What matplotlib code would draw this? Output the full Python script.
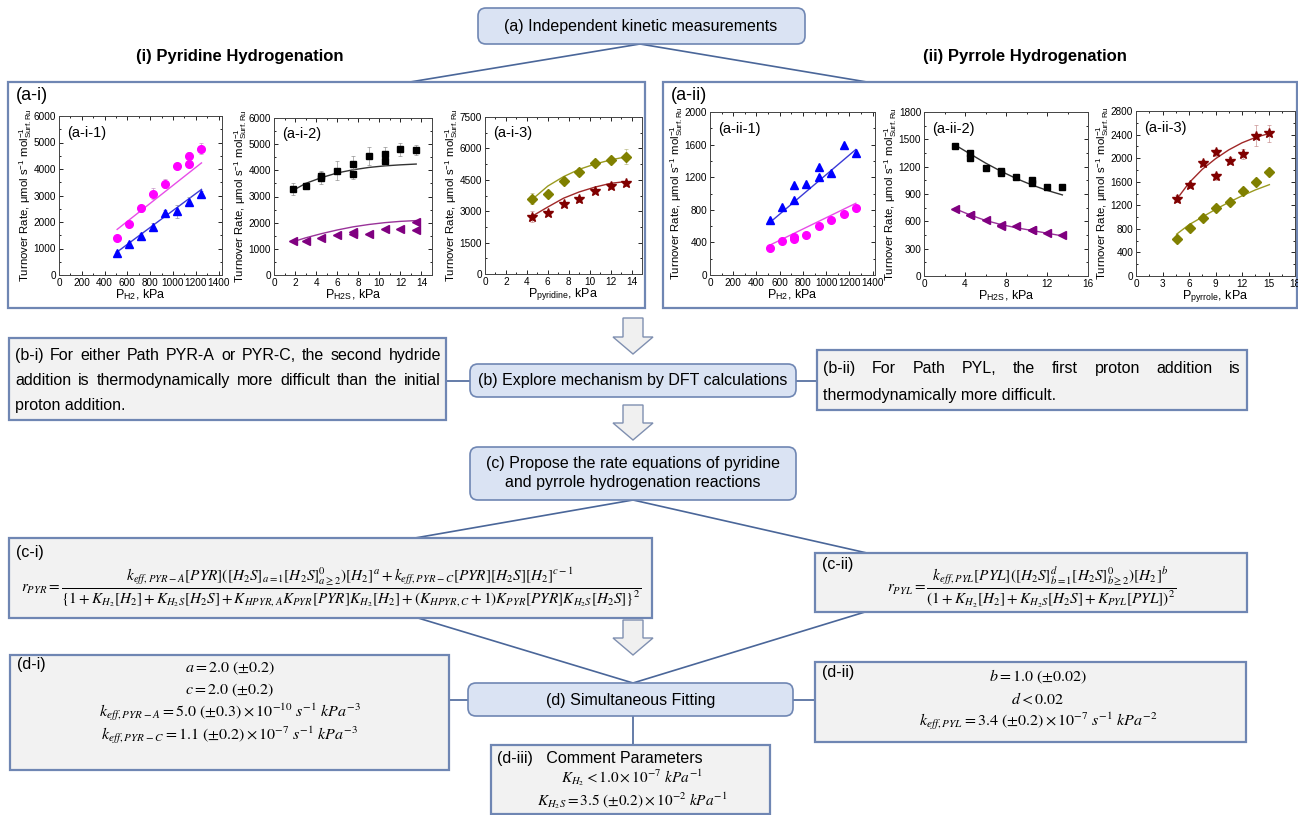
import matplotlib
matplotlib.use('Agg')
import matplotlib.pyplot as plt
from matplotlib.patches import FancyBboxPatch, Rectangle, Polygon
from matplotlib.ticker import MultipleLocator, AutoMinorLocator

plt.rcParams['font.family'] = ['Liberation Sans', 'DejaVu Sans']
plt.rcParams['mathtext.fontset'] = 'stix'

# ---- data ----
# (a-i-1) turnover rate vs P_H2, pyridine
ai1_pink_x = [510, 615, 720, 825, 930, 1035, 1140, 1140, 1250]
ai1_pink_y = [1400, 1930, 2520, 3070, 3450, 4130, 4200, 4490, 4770]
ai1_pink_err = [90, 110, 130, 200, 170, 90, 100, 160, 200]
ai1_pink_fit_x = [510, 1250]
ai1_pink_fit_y = [1720, 4230]
ai1_blue_x = [510, 615, 720, 825, 930, 1035, 1140, 1250]
ai1_blue_y = [820, 1170, 1470, 1800, 2350, 2400, 2770, 3060]
ai1_blue_err = [80, 90, 100, 150, 120, 250, 180, 120]
ai1_blue_fit_x = [510, 1250]
ai1_blue_fit_y = [870, 3230]

# (a-i-2) turnover rate vs P_H2S, pyridine
ai2_sq_x = [1.8, 3, 4.5, 4.5, 6, 7.5, 7.5, 9, 10.5, 10.5, 12, 13.5]
ai2_sq_y = [3280, 3420, 3720, 3800, 3990, 3850, 4260, 4540, 4360, 4630, 4800, 4780]
ai2_sq_err = [220, 100, 250, 150, 350, 200, 300, 350, 150, 250, 250, 200]
ai2_sq_fit_x = [1.8, 3, 4.5, 6, 7.5, 9, 10.5, 12, 13.5]
ai2_sq_fit_y = [3230, 3500, 3720, 3900, 4020, 4110, 4170, 4210, 4240]
ai2_tri_x = [1.8, 3, 4.5, 6, 7.5, 7.5, 9, 10.5, 12, 13.5, 13.5]
ai2_tri_y = [1290, 1290, 1400, 1510, 1560, 1640, 1570, 1750, 1750, 1730, 2040]
ai2_tri_fit_x = [1.8, 3, 4.5, 6, 7.5, 9, 10.5, 12, 13.5]
ai2_tri_fit_y = [1270, 1420, 1580, 1720, 1840, 1930, 2000, 2050, 2080]

# (a-i-3) turnover rate vs P_pyridine
ai3_dia_x = [4.5, 6, 7.5, 9, 10.5, 12, 13.5]
ai3_dia_y = [3600, 3820, 4440, 4860, 5300, 5450, 5600]
ai3_dia_err = [250, 100, 120, 200, 120, 100, 350]
ai3_dia_fit_y = [3560, 4200, 4650, 5000, 5250, 5450, 5600]
ai3_star_y = [2740, 2920, 3350, 3580, 3980, 4180, 4330]
ai3_star_err = [250, 100, 100, 120, 100, 100, 120]
ai3_star_fit_y = [2760, 3200, 3620, 3920, 4150, 4330, 4420]

# (a-ii-1) turnover rate vs P_H2, pyrrole
aii1_blue_x = [520, 620, 725, 725, 830, 935, 935, 1045, 1150, 1255]
aii1_blue_y = [680, 840, 920, 1110, 1120, 1200, 1320, 1250, 1590, 1500]
aii1_blue_fit_x = [520, 1255]
aii1_blue_fit_y = [650, 1540]
aii1_pink_x = [520, 620, 725, 725, 830, 935, 1045, 1150, 1255]
aii1_pink_y = [330, 420, 440, 470, 490, 600, 680, 750, 820]
aii1_pink_fit_x = [520, 1255]
aii1_pink_fit_y = [370, 880]

# (a-ii-2) turnover rate vs P_H2S, pyrrole
aii2_sq_x = [3, 4.5, 4.5, 6, 7.5, 7.5, 9, 10.5, 10.5, 12, 13.5]
aii2_sq_y = [1430, 1350, 1290, 1180, 1130, 1150, 1090, 1020, 1050, 980, 980]
aii2_tri_x = [3, 4.5, 4.5, 6, 7.5, 7.5, 9, 10.5, 10.5, 12, 13.5]
aii2_tri_y = [730, 665, 670, 615, 545, 560, 545, 510, 500, 475, 445]
aii2_fit_x = [3, 4.5, 6, 7.5, 9, 10.5, 12, 13.5]
aii2_sq_fit_y = [1440, 1340, 1240, 1150, 1070, 1000, 940, 890]
aii2_tri_fit_y = [740, 670, 610, 565, 530, 500, 470, 440]

# (a-ii-3) turnover rate vs P_pyrrole
aii3_star_x = [4.6, 6.1, 7.6, 9.1, 9.1, 10.6, 12.1, 13.6, 15.1]
aii3_star_y = [1310, 1540, 1920, 2100, 1690, 1960, 2070, 2380, 2420]
aii3_star_err = [60, 50, 50, 60, 60, 60, 90, 180, 140]
aii3_dia_x = [4.6, 6.1, 7.6, 9.1, 10.6, 12.1, 13.6, 15.1]
aii3_dia_y = [620, 820, 990, 1160, 1260, 1440, 1590, 1760]
aii3_fit_x = [4.6, 6, 7.5, 9, 10.5, 12, 13.5, 15.1]
aii3_star_fit_y = [1300, 1580, 1810, 1990, 2140, 2260, 2350, 2420]
aii3_dia_fit_y = [710, 870, 1000, 1130, 1250, 1360, 1460, 1550]

# ---- canvas in pixel units ----
W, H = 1298, 815
fig = plt.figure(figsize=(W / 100, H / 100), dpi=100)
base = fig.add_axes([0, 0, 1, 1])
base.set_xlim(0, W)
base.set_ylim(H, 0)
base.axis('off')

EDGE = '#6f86b3'
LINE = '#4a6699'
BLUE = '#dae3f3'
GRAY = '#f2f2f2'


def box(x0, y0, x1, y1, fc, rounded=False):
    if rounded:
        p = FancyBboxPatch((x0, y0), x1 - x0, y1 - y0,
                           boxstyle='round,pad=0,rounding_size=8',
                           fc=fc, ec=EDGE, lw=1.2, zorder=2)
    else:
        p = Rectangle((x0, y0), x1 - x0, y1 - y0, fc=fc, ec=EDGE, lw=1.6, zorder=2)
    base.add_patch(p)


def link(x0, y0, x1, y1):
    base.plot([x0, x1], [y0, y1], color=LINE, lw=1.2, zorder=1)


def down_arrow(xc, y0, y1):
    pts = [(xc - 10, y0), (xc + 10, y0), (xc + 10, y1 - 17), (xc + 20, y1 - 17),
           (xc, y1), (xc - 20, y1 - 17), (xc - 10, y1 - 17)]
    base.add_patch(Polygon(pts, closed=True, fc='#f0f0f0', ec='#7f8fb0', lw=1.0, zorder=2))


def justify(lines, x0, x1, ys, size):
    # spread the words of each line (but the last) across the box width
    r = fig.canvas.get_renderer()
    for i, (line, y) in enumerate(zip(lines, ys)):
        yb = y + 4
        if i == len(lines) - 1:
            base.text(x0, yb, line, fontsize=size, va='baseline', zorder=3)
            continue
        words = line.split()
        ts = [base.text(0, yb, w, fontsize=size, va='baseline', zorder=3) for w in words]
        widths = [t.get_window_extent(r).width for t in ts]
        gap = (x1 - x0 - sum(widths)) / (len(words) - 1)
        x = x0
        for t, w in zip(ts, widths):
            t.set_x(x)
            x += w + gap


# ---- top: (a) ----
link(640, 44, 410, 82)
link(640, 44, 867, 82)
box(478, 8, 805, 44, BLUE, rounded=True)
base.text(641, 26, '(a) Independent kinetic measurements', fontsize=11.5,
          ha='center', va='center', zorder=3)
base.text(240, 57, '(i) Pyridine Hydrogenation', fontsize=12, weight='bold',
          ha='center', va='center')
base.text(1025, 57, '(ii) Pyrrole Hydrogenation', fontsize=12, weight='bold',
          ha='center', va='center')
box(8, 82, 645, 308, 'white')
box(663, 82, 1297, 308, 'white')
base.text(16, 95, '(a-i)', fontsize=13, va='center', zorder=3)
base.text(671, 95, '(a-ii)', fontsize=13, va='center', zorder=3)

YLAB = (r'Turnover Rate, $\mathregular{\mu}$mol s$^{\mathregular{-1}}$ '
        r'mol$^{\mathregular{-1}}_{\mathregular{Surf.Ru}}$')


def panel(rect, xlim, xmaj, ylim, ymaj, xlabel, tag):
    x0, y0, x1, y1 = rect
    ax = fig.add_axes([x0 / W, 1 - y1 / H, (x1 - x0) / W, (y1 - y0) / H])
    ax.patch.set_alpha(0)
    ax.set_zorder(5)
    ax.set_xlim(*xlim)
    ax.set_ylim(*ylim)
    ax.xaxis.set_major_locator(MultipleLocator(xmaj))
    ax.yaxis.set_major_locator(MultipleLocator(ymaj))
    ax.xaxis.set_minor_locator(AutoMinorLocator(2))
    ax.yaxis.set_minor_locator(AutoMinorLocator(2))
    ax.tick_params(which='both', direction='in', top=True, right=True, labelsize=7.2,
                   width=0.6, pad=2)
    ax.tick_params(which='major', length=3)
    ax.tick_params(which='minor', length=1.5)
    for s in ax.spines.values():
        s.set_linewidth(0.7)
        s.set_color('#444444')
    ax.set_xlabel(xlabel, fontsize=9, labelpad=0)
    ax.set_ylabel(YLAB, fontsize=8.2, labelpad=0)
    ax.text(0.05, 0.94, tag, transform=ax.transAxes, fontsize=10.5, va='top')
    return ax


def pts(ax, x, y, m, c, ms, err=None, ec=None):
    if err is not None:
        ax.errorbar(x, y, yerr=err, fmt='none', ecolor=ec or c, elinewidth=0.6,
                    capsize=1.5, capthick=0.6, alpha=0.7)
    ax.plot(x, y, m, color=c, ms=ms, ls='none')


ax = panel((59, 116, 222, 275), (0, 1430), 200, (0, 6000), 1000,
           r'P$_{\mathregular{H2}}$, kPa', '(a-i-1)')
ax.plot(ai1_pink_fit_x, ai1_pink_fit_y, color='#e84de8', lw=1)
ax.plot(ai1_blue_fit_x, ai1_blue_fit_y, color='#3a3ad6', lw=1)
pts(ax, ai1_pink_x, ai1_pink_y, 'o', '#ff00ff', 5.5, ai1_pink_err, '#c080c0')
pts(ax, ai1_blue_x, ai1_blue_y, '^', '#0000ff', 6, ai1_blue_err, '#8080a0')

ax = panel((274, 118, 432, 275), (0, 15), 2, (0, 6000), 1000,
           r'P$_{\mathregular{H2S}}$, kPa', '(a-i-2)')
ax.plot(ai2_sq_fit_x, ai2_sq_fit_y, color='#333333', lw=1)
ax.plot(ai2_tri_fit_x, ai2_tri_fit_y, color='#993399', lw=1)
pts(ax, ai2_sq_x, ai2_sq_y, 's', 'black', 5, ai2_sq_err, '#808080')
pts(ax, ai2_tri_x, ai2_tri_y, '<', '#800080', 6)

ax = panel((485, 117, 642, 274), (0, 15), 2, (0, 7500), 1500,
           r'P$_{\mathregular{pyridine}}$, kPa', '(a-i-3)')
ax.plot(ai3_dia_x, ai3_dia_fit_y, color='#9a9a20', lw=1)
ax.plot(ai3_dia_x, ai3_star_fit_y, color='#a02828', lw=1)
pts(ax, ai3_dia_x, ai3_dia_y, 'D', '#808000', 5, ai3_dia_err, '#b0b070')
pts(ax, ai3_dia_x, ai3_star_y, '*', '#800000', 7, ai3_star_err, '#c08080')

ax = panel((710, 112, 875, 275), (0, 1420), 200, (0, 2000), 400,
           r'P$_{\mathregular{H2}}$, kPa', '(a-ii-1)')
ax.plot(aii1_blue_fit_x, aii1_blue_fit_y, color='#3a3ad6', lw=1)
ax.plot(aii1_pink_fit_x, aii1_pink_fit_y, color='#e84de8', lw=1)
pts(ax, aii1_blue_x, aii1_blue_y, '^', '#0000ff', 6)
pts(ax, aii1_pink_x, aii1_pink_y, 'o', '#ff00ff', 5.5)

ax = panel((924, 112, 1088, 276), (0, 16), 4, (0, 1800), 300,
           r'P$_{\mathregular{H2S}}$, kPa', '(a-ii-2)')
ax.plot(aii2_fit_x, aii2_sq_fit_y, color='#333333', lw=1)
ax.plot(aii2_fit_x, aii2_tri_fit_y, color='#993399', lw=1)
pts(ax, aii2_sq_x, aii2_sq_y, 's', 'black', 5)
pts(ax, aii2_tri_x, aii2_tri_y, '<', '#800080', 6)

ax = panel((1136, 111, 1295, 276), (0, 18), 3, (0, 2800), 400,
           r'P$_{\mathregular{pyrrole}}$, kPa', '(a-ii-3)')
ax.plot(aii3_fit_x, aii3_star_fit_y, color='#a02828', lw=1)
ax.plot(aii3_fit_x, aii3_dia_fit_y, color='#9a9a20', lw=1)
pts(ax, aii3_star_x, aii3_star_y, '*', '#800000', 7, aii3_star_err, '#c08080')
pts(ax, aii3_dia_x, aii3_dia_y, 'D', '#808000', 5)

# ---- (b) DFT ----
down_arrow(633, 318, 354)
link(446, 381, 470, 381)
link(796, 381, 817, 381)
box(9, 338, 446, 420, GRAY)
box(470, 364, 796, 397, BLUE, rounded=True)
box(817, 350, 1247, 410, GRAY)
base.text(633, 381, '(b) Explore mechanism by DFT calculations', fontsize=11.5,
          ha='center', va='center', zorder=3)
justify(['(b-i) For either Path PYR-A or PYR-C, the second hydride',
         'addition is thermodynamically more difficult than the initial',
         'proton addition.'], 15, 441, [356, 381, 406], 11.5)
justify(['(b-ii)  For Path PYL, the first proton addition is',
         'thermodynamically more difficult.'], 823, 1241, [369, 396], 11.5)

# ---- (c) rate equations ----
down_arrow(633, 405, 440)
link(633, 500, 415, 538)
link(633, 500, 867, 553)
box(470, 447, 796, 500, BLUE, rounded=True)
base.text(633, 473, '(c) Propose the rate equations of pyridine\nand pyrrole hydrogenation reactions',
          fontsize=11.5, ha='center', va='center', linespacing=1.3, zorder=3)

link(418, 618, 633, 683)
link(865, 612, 633, 683)
box(9, 538, 652, 618, GRAY)
box(815, 553, 1247, 612, GRAY)
base.text(16, 552, '(c-i)', fontsize=11.5, va='center', zorder=3)
base.text(822, 565, '(c-ii)', fontsize=11.5, va='center', zorder=3)
eq_pyr = (r'$r_{PYR}=\dfrac{k_{eff,PYR-A}[PYR]([H_2S]_{a=1}[H_2S]^{0}_{a\geq2})[H_2]^{a}'
          r'+k_{eff,PYR-C}[PYR][H_2S][H_2]^{c-1}}'
          r'{\{1+K_{H_2}[H_2]+K_{H_2S}[H_2S]+K_{HPYR,A}K_{PYR}[PYR]K_{H_2}[H_2]'
          r'+(K_{HPYR,C}+1)K_{PYR}[PYR]K_{H_2S}[H_2S]\}^{2}}$')
base.text(331, 587, eq_pyr, fontsize=11, ha='center', va='center', zorder=3)
eq_pyl = (r'$r_{PYL}=\dfrac{k_{eff,PYL}[PYL]([H_2S]^{d}_{b=1}[H_2S]^{0}_{b\geq2})[H_2]^{b}}'
          r'{(1+K_{H_2}[H_2]+K_{H_2S}[H_2S]+K_{PYL}[PYL])^{2}}$')
base.text(1032, 587, eq_pyl, fontsize=11, ha='center', va='center', zorder=3)

# ---- (d) fitting ----
down_arrow(633, 620, 655)
link(449, 700, 468, 700)
link(793, 700, 815, 700)
link(633, 716, 633, 745)
box(10, 655, 449, 770, GRAY)
box(468, 683, 793, 716, BLUE, rounded=True)
box(815, 662, 1246, 742, GRAY)
box(491, 745, 770, 814, GRAY)
base.text(631, 700, '(d) Simultaneous Fitting', fontsize=11.5, ha='center', va='center', zorder=3)

base.text(17, 664, '(d-i)', fontsize=11.5, va='center', zorder=3)
di_lines = [r'$a=2.0\ (\pm0.2)$', r'$c=2.0\ (\pm0.2)$',
            r'$k_{eff,PYR-A}=5.0\ (\pm0.3)\times10^{-10}\ s^{-1}\ kPa^{-3}$',
            r'$k_{eff,PYR-C}=1.1\ (\pm0.2)\times10^{-7}\ s^{-1}\ kPa^{-3}$']
for s, y in zip(di_lines, [668, 690, 712, 735]):
    base.text(230, y, s, fontsize=11.5, ha='center', va='center', zorder=3)

base.text(822, 673, '(d-ii)', fontsize=11.5, va='center', zorder=3)
dii_lines = [r'$b=1.0\ (\pm0.02)$', r'$d<0.02$',
             r'$k_{eff,PYL}=3.4\ (\pm0.2)\times10^{-7}\ s^{-1}\ kPa^{-2}$']
for s, y in zip(dii_lines, [677, 699, 721]):
    base.text(1038, y, s, fontsize=11.5, ha='center', va='center', zorder=3)

base.text(497, 758, '(d-iii)   Comment Parameters', fontsize=11.5, va='center', zorder=3)
diii_lines = [r'$K_{H_2}<1.0\times10^{-7}\ kPa^{-1}$',
              r'$K_{H_2S}=3.5\ (\pm0.2)\times10^{-2}\ kPa^{-1}$']
for s, y in zip(diii_lines, [778, 801]):
    base.text(632, y, s, fontsize=11, ha='center', va='center', zorder=3)

fig.savefig('out.png', dpi=100)
